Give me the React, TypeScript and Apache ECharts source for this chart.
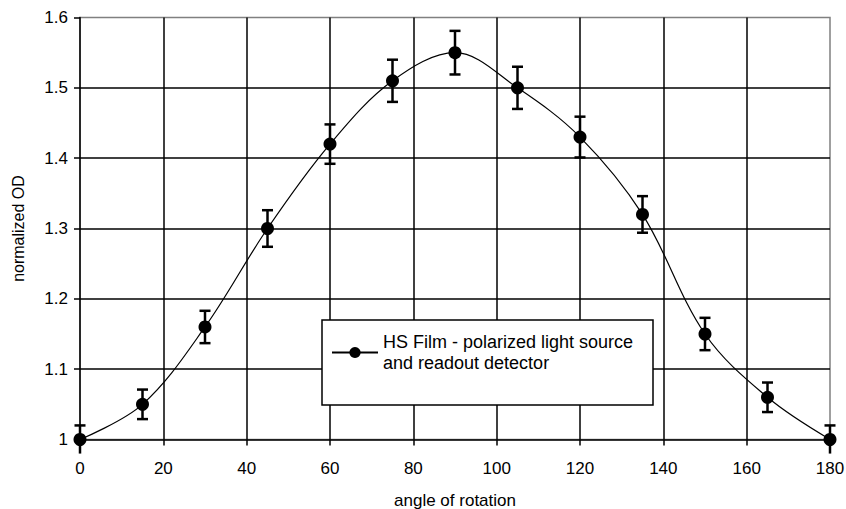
import React, { useEffect, useRef } from "react";
import * as echarts from "echarts";

const angles = [0, 15, 30, 45, 60, 75, 90, 105, 120, 135, 150, 165, 180];
const odValues = [1.0, 1.05, 1.16, 1.3, 1.42, 1.51, 1.55, 1.5, 1.43, 1.32, 1.15, 1.06, 1.0];
const odErrors = [0.02, 0.021, 0.023, 0.026, 0.028, 0.03, 0.031, 0.03, 0.029, 0.026, 0.023, 0.021, 0.02];
const seriesName = "HS Film - polarized light source\nand readout detector";
const X_MIN = 0, X_MAX = 180, X_STEP = 20;
const Y_MIN = 1, Y_MAX = 1.6, Y_STEP = 0.1;

const FONT = "Liberation Sans, Arial, sans-serif";

export default function App() {
  const ref = useRef<HTMLDivElement>(null);
  useEffect(() => {
    if (!ref.current) return;
    const chart = echarts.init(ref.current, undefined, { renderer: "svg" });
    const lineData = angles.map((a, i) => [a, odValues[i]]);
    const errData = angles.map((a, i) => [a, odValues[i] - odErrors[i], odValues[i] + odErrors[i]]);
    chart.setOption({
      animation: false,
      backgroundColor: "#ffffff",
      textStyle: { fontFamily: FONT, color: "#000" },
      grid: {
        left: 80,
        right: 16,
        top: 17.5,
        bottom: 69.5,
        outerBoundsMode: "none",
        containLabel: false,
        show: true,
        borderColor: "#808080",
        borderWidth: 1.5,
        backgroundColor: "#ffffff",
      },
      legend: {
        data: [seriesName],
        left: 322,
        top: 320,
        orient: "vertical",
        padding: [1, 7, 21, 9],
        itemWidth: 46,
        itemHeight: 14,
        borderColor: "#000",
        borderWidth: 1.5,
        backgroundColor: "#fff",
        selectedMode: false,
        textStyle: {
          fontFamily: FONT,
          fontSize: 18,
          lineHeight: 21,
          color: "#000",
          padding: [21, 0, 0, 0],
          width: 263,
        },
      },
      xAxis: {
        type: "value",
        min: X_MIN,
        max: X_MAX,
        interval: X_STEP,
        name: "angle of rotation",
        nameLocation: "middle",
        nameGap: 52,
        nameTextStyle: { fontFamily: FONT, fontSize: 17, color: "#000" },
        axisLine: { show: true, onZero: false, lineStyle: { color: "#000", width: 1.5 } },
        axisTick: { show: true, inside: false, length: 6, lineStyle: { color: "#000", width: 1.5 } },
        axisLabel: { fontFamily: FONT, fontSize: 17, color: "#000", margin: 20 },
        splitLine: { show: true, showMinLine: false, showMaxLine: false, lineStyle: { color: "#000", width: 1.5 } },
      },
      yAxis: {
        type: "value",
        min: Y_MIN,
        max: Y_MAX,
        interval: Y_STEP,
        name: "normalized OD",
        nameLocation: "middle",
        nameGap: 54,
        nameTextStyle: { fontFamily: FONT, fontSize: 16, color: "#000" },
        axisLine: { show: true, onZero: false, lineStyle: { color: "#000", width: 1.5 } },
        axisTick: { show: true, inside: false, length: 6, lineStyle: { color: "#000", width: 1.5 } },
        axisLabel: { fontFamily: FONT, fontSize: 17, color: "#000", margin: 12 },
        splitLine: { show: true, showMinLine: false, showMaxLine: false, lineStyle: { color: "#000", width: 1.5 } },
      },
      series: [
        {
          type: "custom",
          name: "error bars",
          clip: false,
          z: 3,
          encode: { x: 0, y: [1, 2] },
          data: errData,
          renderItem: (params: any, api: any) => {
            const x = api.value(0);
            const lo = api.value(1);
            const hi = api.value(2);
            const pHi = api.coord([x, hi]);
            const pLo = api.coord([x, lo]);
            const half = 5.5;
            const style = { stroke: "#000", lineWidth: 2.5 };
            const children: any[] = [
              { type: "line", shape: { x1: pHi[0], y1: pHi[1], x2: pLo[0], y2: pLo[1] }, style },
              { type: "line", shape: { x1: pHi[0] - half, y1: pHi[1], x2: pHi[0] + half, y2: pHi[1] }, style },
            ];
            if (lo >= Y_MIN) {
              children.push({ type: "line", shape: { x1: pLo[0] - half, y1: pLo[1], x2: pLo[0] + half, y2: pLo[1] }, style });
            }
            return { type: "group", children };
          },
        },
        {
          type: "line",
          name: seriesName,
          data: lineData,
          smooth: 0.35,
          clip: false,
          z: 4,
          symbol: "circle",
          symbolSize: 13,
          itemStyle: { color: "#000" },
          lineStyle: { color: "#000", width: 1.2 },
        },
      ],
    });
    return () => chart.dispose();
  }, []);
  return (
    <div
      ref={ref}
      style={{ position: "fixed", left: 0, top: 0, width: 846, height: 509, background: "#fff" }}
    />
  );
}
